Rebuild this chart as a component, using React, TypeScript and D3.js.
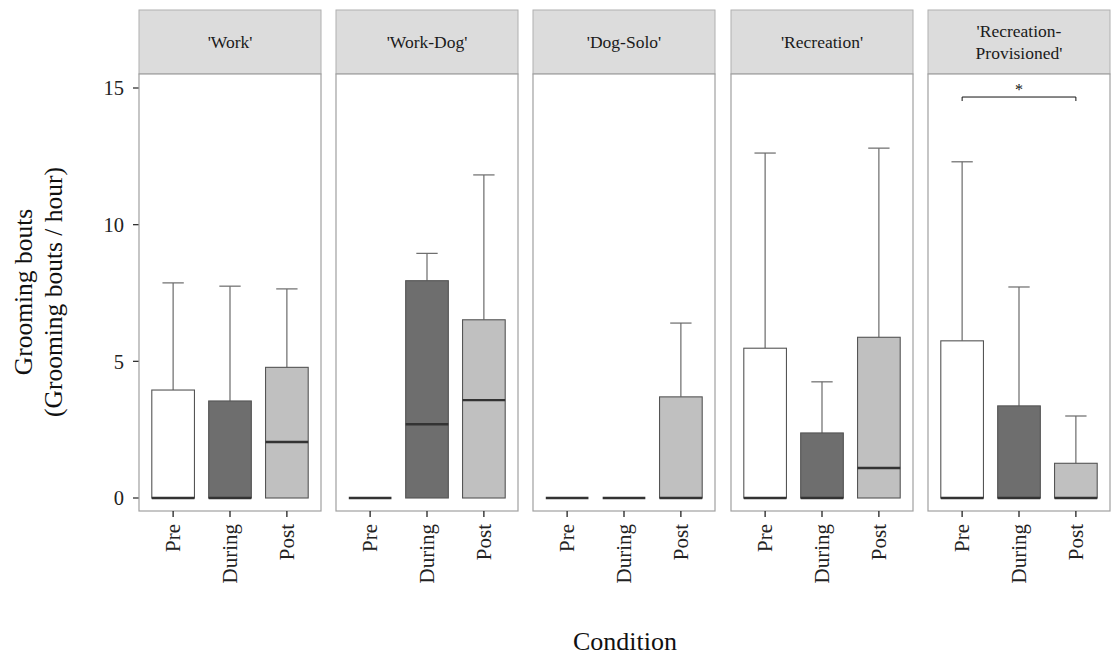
import React from "react";
import * as d3 from "d3";

// Facets and conditions
const panels = ["'Work'", "'Work-Dog'", "'Dog-Solo'", "'Recreation'", "'Recreation-\nProvisioned'"];
const conditions = ["Pre", "During", "Post"];
const yTicks = [0, 5, 10, 15];

// Box statistics per facet, in condition order: [lower hinge, median, upper hinge, upper whisker]
const workStats = [[0, 0, 3.95, 7.87], [0, 0, 3.55, 7.75], [0, 2.05, 4.78, 7.65]];
const workDogStats = [[0, 0, 0, 0], [0, 2.7, 7.95, 8.95], [0, 3.58, 6.52, 11.82]];
const dogSoloStats = [[0, 0, 0, 0], [0, 0, 0, 0], [0, 0, 3.7, 6.4]];
const recreationStats = [[0, 0, 5.48, 12.62], [0, 0, 2.38, 4.25], [0, 1.1, 5.88, 12.8]];
const provisionedStats = [[0, 0, 5.75, 12.3], [0, 0, 3.37, 7.72], [0, 0, 1.27, 3.0]];
const panelStats = [workStats, workDogStats, dogSoloStats, recreationStats, provisionedStats];

// Significance bracket in the last facet
const sigPanel = 4;
const sigFrom = "Pre";
const sigTo = "Post";
const sigY = 14.67;

const fills = ["#ffffff", "#6e6e6e", "#c0c0c0"];

const W = 1111;
const H = 657;
const panelLefts = [139, 336, 533, 731, 928];
const panelW = 182;
const stripTop = 10;
const plotTop = 74;
const plotBottom = 511;
const serif = "Liberation Serif, Times New Roman, serif";

export default function App() {
  const y = d3.scaleLinear().domain([0, 15]).range([498, 88]);
  const bandUnit = panelW / 3.2;
  const x = d3.scalePoint<string>().domain(conditions).range([0.6 * bandUnit, 2.6 * bandUnit]);
  const boxW = 0.75 * bandUnit;
  const capW = boxW / 2;

  return (
    <svg
      width={W}
      height={H}
      style={{ display: "block", position: "absolute", left: 0, top: 0, fontFamily: serif }}
    >
      <rect x={0} y={0} width={W} height={H} fill="#ffffff" />
      {/* y axis ticks & labels */}
      {yTicks.map((t) => (
        <g key={t}>
          <line x1={133} x2={139} y1={y(t)} y2={y(t)} stroke="#333" strokeWidth={1.3} />
          <text x={124} y={y(t)} dy="0.35em" textAnchor="end" fontSize={20.5} fill="#222" style={{ fontFamily: serif }}>
            {t}
          </text>
        </g>
      ))}
      {panels.map((p, i) => {
        const left = panelLefts[i];
        const stats = panelStats[i];
        const lines = p.split("\n");
        return (
          <g key={p}>
            {/* strip */}
            <rect x={left} y={stripTop} width={panelW} height={plotTop - stripTop} fill="#dcdcdc" stroke="#b0b0b0" strokeWidth={1} />
            {lines.map((ln, k) => (
              <text
                key={k}
                x={left + panelW / 2}
                y={(stripTop + plotTop) / 2 + (k - (lines.length - 1) / 2) * 22}
                dy="0.35em"
                textAnchor="middle"
                fontSize={17.5}
                fill="#1a1a1a"
                style={{ fontFamily: serif }}
              >
                {ln}
              </text>
            ))}
            {/* panel background */}
            <rect x={left} y={plotTop} width={panelW} height={plotBottom - plotTop} fill="#ffffff" stroke="#a0a0a0" strokeWidth={1.2} />
            {conditions.map((c, j) => {
              const [lo, med, hi, wh] = stats[j];
              const cx = left + (x(c) as number);
              return (
                <g key={c}>
                  {wh > hi && (
                    <g stroke="#6a6a6a" strokeWidth={1.2}>
                      <line x1={cx} x2={cx} y1={y(hi)} y2={y(wh)} />
                      <line x1={cx - capW / 2} x2={cx + capW / 2} y1={y(wh)} y2={y(wh)} />
                    </g>
                  )}
                  <rect
                    x={cx - boxW / 2}
                    y={y(hi)}
                    width={boxW}
                    height={y(lo) - y(hi)}
                    fill={fills[j]}
                    stroke="#555"
                    strokeWidth={1.1}
                  />
                  <line x1={cx - boxW / 2} x2={cx + boxW / 2} y1={y(med)} y2={y(med)} stroke="#333" strokeWidth={2.4} />
                  {/* x tick */}
                  <line x1={cx} x2={cx} y1={plotBottom} y2={plotBottom + 6} stroke="#222" strokeWidth={1.3} />
                  <text
                    transform={`translate(${cx},${plotBottom + 13}) rotate(-90)`}
                    dy="0.35em"
                    textAnchor="end"
                    fontSize={21}
                    fill="#222"
                    style={{ fontFamily: serif }}
                  >
                    {c}
                  </text>
                </g>
              );
            })}
            {i === sigPanel && (
              <g>
                <path
                  d={`M${left + (x(sigFrom) as number)},${y(sigY) + 4}V${y(sigY)}H${left + (x(sigTo) as number)}V${y(sigY) + 4}`}
                  fill="none"
                  stroke="#111"
                  strokeWidth={1}
                />
                <text
                  x={left + ((x(sigFrom) as number) + (x(sigTo) as number)) / 2}
                  y={y(sigY) - 2}
                  textAnchor="middle"
                  fontSize={16}
                  fill="#111"
                  style={{ fontFamily: serif }}
                >
                  *
                </text>
              </g>
            )}
          </g>
        );
      })}
      {/* axis titles */}
      <text transform="translate(23,292) rotate(-90)" textAnchor="middle" fontSize={25.5} fill="#111" dy="0.35em" style={{ fontFamily: serif }}>
        Grooming bouts
      </text>
      <text transform="translate(53,292) rotate(-90)" textAnchor="middle" fontSize={25.5} fill="#111" dy="0.35em" style={{ fontFamily: serif }}>
        (Grooming bouts / hour)
      </text>
      <text x={625} y={641} textAnchor="middle" fontSize={26} fill="#111" dy="0.35em" style={{ fontFamily: serif }}>
        Condition
      </text>
    </svg>
  );
}
